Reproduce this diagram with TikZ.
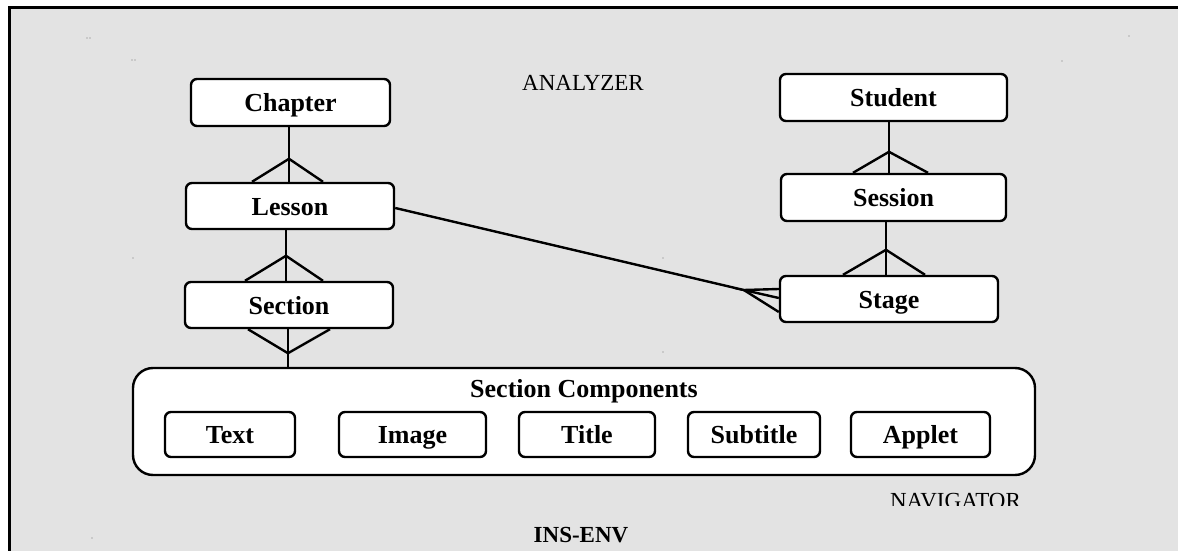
\documentclass[tikz,border=0pt]{standalone}
\usepackage{fontspec}
\setmainfont{Liberation Serif}
\usetikzlibrary{calc}
\definecolor{framegray}{HTML}{E3E3E3}
\tikzset{
  ent/.style={draw, fill=white, rounded corners=6pt, line width=2.4pt,
    font=\bfseries\fontsize{26}{30}\selectfont, inner sep=0pt,
    text height=18pt, text depth=0pt, anchor=center},
  conn/.style={line width=2.4pt},
  lbl/.style={font=\fontsize{23}{27}\selectfont, anchor=base, inner sep=0pt},
  speck/.style={fill=black!55}
}
\begin{document}
\begin{tikzpicture}[x=1pt,y=-1pt]
\clip (0,0) rectangle (1178,551);
\fill[white] (0,0) rectangle (1178,551);
\draw[fill=framegray, line width=3pt] (9,8) rectangle (1200,580);

% specks
\foreach \p in {(87,38),(90,38),(132,60),(135,60),(1129,36),(1062,61),(133,258),(663,258),(663,352),(92,538)}
  \fill[speck] \p circle (0.6pt);

% entities
\node[ent, minimum width=199pt, minimum height=47pt] (chapter) at (290.5,102.5) {Chapter};
\node[ent, minimum width=208pt, minimum height=46pt] (lesson) at (290,206) {Lesson};
\node[ent, minimum width=208pt, minimum height=46pt] (section) at (289,305) {Section};
\node[ent, minimum width=227pt, minimum height=47pt] (student) at (893.5,97.5) {Student};
\node[ent, minimum width=225pt, minimum height=47pt] (session) at (893.5,197.5) {Session};
\node[ent, minimum width=218pt, minimum height=46pt] (stage) at (889,299) {Stage};

\node[draw, fill=white, rounded corners=20pt, line width=2.4pt, minimum width=902pt, minimum height=107pt, inner sep=0pt] (comp) at (584,421.5) {};
\node[lbl, font=\bfseries\fontsize{26}{30}\selectfont] (complbl) at (584,397) {Section Components};

\node[ent, minimum width=130pt, minimum height=45pt] (text) at (230,434.5) {Text};
\node[ent, minimum width=147pt, minimum height=45pt] (image) at (412.5,434.5) {Image};
\node[ent, minimum width=136pt, minimum height=45pt] (title) at (587,434.5) {Title};
\node[ent, minimum width=132pt, minimum height=45pt] (subtitle) at (754,434.5) {Subtitle};
\node[ent, minimum width=139pt, minimum height=45pt] (applet) at (920.5,434.5) {Applet};

% labels
\node[lbl] (analyzer) at (583,91) {ANALYZER};
\begin{scope}
  \clip (0,0) rectangle (1178,505.5);
  \node[lbl] (navigator) at (955.5,508) {NAVIGATOR};
\end{scope}
\node[lbl, font=\bfseries\fontsize{23}{27}\selectfont] (insenv) at (581,542) {INS-ENV};

% Chapter -- Lesson (many at Lesson)
\draw[conn] (chapter.south -| 289,0) -- (lesson.north -| 289,0);
\coordinate (a1) at ($(lesson.north -| 289,0)+(0,-23)$);
\draw[conn] ($(lesson.north -| 289,0)+(-37,0)$) -- (a1) -- ($(lesson.north -| 289,0)+(34,0)$);

% Lesson -- Section (many at Section)
\draw[conn] (lesson.south -| 286,0) -- (section.north -| 286,0);
\coordinate (a2) at ($(section.north -| 286,0)+(0,-25)$);
\draw[conn] ($(section.north -| 286,0)+(-41,0)$) -- (a2) -- ($(section.north -| 286,0)+(37,0)$);

% Section -- Components (many at Section)
\draw[conn] (section.south -| 288,0) -- (comp.north -| 288,0);
\coordinate (a3) at ($(section.south -| 288,0)+(0,24)$);
\draw[conn] ($(section.south -| 288,0)+(-40,0)$) -- (a3) -- ($(section.south -| 288,0)+(42,0)$);

% Student -- Session (many at Session)
\draw[conn] (student.south -| 889,0) -- (session.north -| 889,0);
\coordinate (a4) at ($(session.north -| 889,0)+(0,-21)$);
\draw[conn] ($(session.north -| 889,0)+(-36,0)$) -- (a4) -- ($(session.north -| 889,0)+(39,0)$);

% Session -- Stage (many at Stage)
\draw[conn] (session.south -| 886,0) -- (stage.north -| 886,0);
\coordinate (a5) at ($(stage.north -| 886,0)+(0,-25)$);
\draw[conn] ($(stage.north -| 886,0)+(-43,0)$) -- (a5) -- ($(stage.north -| 886,0)+(39,0)$);

% Lesson -- Stage (many at Stage)
\coordinate (a6) at ($(stage.west)+(-35,-9)$);
\draw[conn] ($(lesson.east)+(0,2)$) -- (a6);
\draw[conn] ($(stage.west)+(0,-10)$) -- (a6) -- ($(stage.west)+(0,-1)$);
\draw[conn] (a6) -- ($(stage.west)+(0,13)$);
\end{tikzpicture}
\end{document}
